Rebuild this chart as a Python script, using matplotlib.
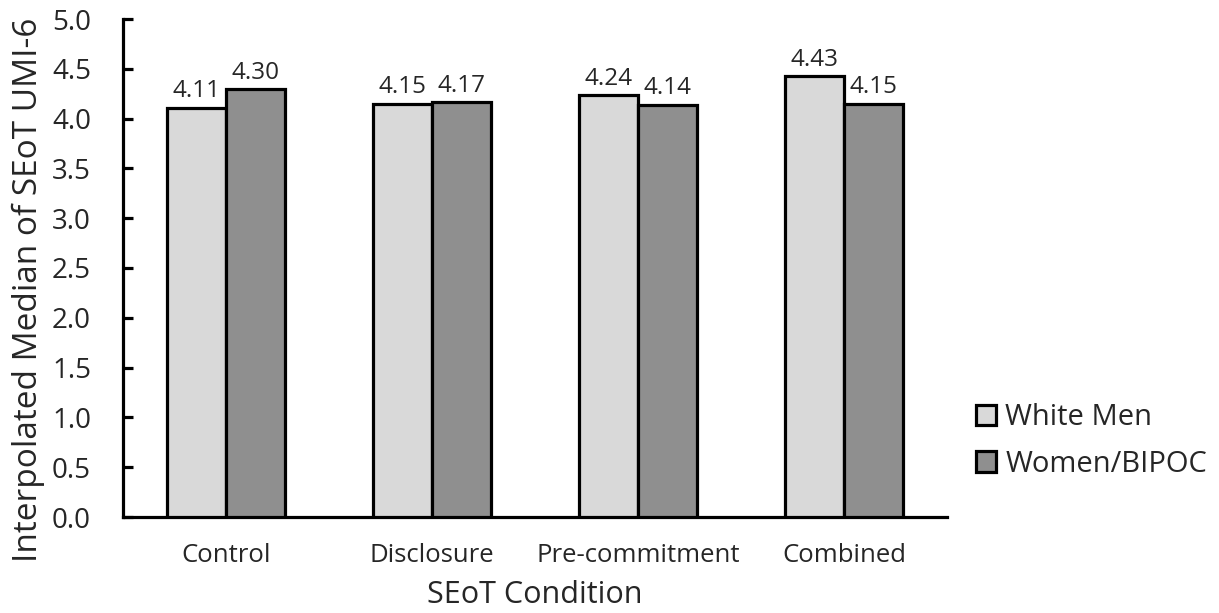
import matplotlib
matplotlib.use("Agg")
import matplotlib.pyplot as plt
import numpy as np
from matplotlib.patches import Patch

plt.rcParams['font.family'] = ['Open Sans', 'DejaVu Sans']

conditions = ["Control", "Disclosure", "Pre-commitment", "Combined"]
white_men = [4.11, 4.15, 4.24, 4.43]
women_bipoc = [4.30, 4.17, 4.14, 4.15]
series_names = ["White Men", "Women/BIPOC"]
y_ticks = [0.0, 0.5, 1.0, 1.5, 2.0, 2.5, 3.0, 3.5, 4.0, 4.5, 5.0]

DPI = 100
fig = plt.figure(figsize=(12.19, 6.13), dpi=DPI)
ax = fig.add_axes([123 / 1219, 1 - 517 / 613, (947 - 123) / 1219, (517 - 19) / 613])

x = np.arange(len(conditions))
w = 0.286
colors = ["#D9D9D9", "#8F8F8F"]
text_color = "#262626"

for i, (vals, col) in enumerate(zip([white_men, women_bipoc], colors)):
    offs = (i - 0.5) * w
    bars = ax.bar(x + offs, vals, width=w, color=col, edgecolor="black", linewidth=2.3, zorder=3)
    for b, v in zip(bars, vals):
        ax.annotate(f"{v:.2f}", (b.get_x() + b.get_width() / 2, v), xytext=(0, 3),
                    textcoords="offset points", ha="center", va="bottom",
                    fontsize=17.5, color=text_color)

ax.set_xlim(-0.5, len(conditions) - 0.5)
ax.set_ylim(0, 5.0)
ax.set_yticks(y_ticks)
ax.set_yticklabels([f"{t:.1f}" for t in y_ticks], fontsize=20, color=text_color)
ax.set_xticks(x)
ax.set_xticklabels(conditions, fontsize=18.5, color=text_color)

for s in ["top", "right"]:
    ax.spines[s].set_visible(False)
for s in ["left", "bottom"]:
    ax.spines[s].set_linewidth(2.3)
    ax.spines[s].set_color("black")

ax.tick_params(axis="y", direction="in", length=7, width=2.3, pad=23)
ax.tick_params(axis="x", length=0, pad=18.5)

ax.set_ylabel("Interpolated Median of SEoT UMI-6", fontsize=24, color=text_color)
ax.yaxis.set_label_coords((45 - 123) / 824, (517 - 290) / 498)
ax.set_xlabel("SEoT Condition", fontsize=22, color=text_color, labelpad=9)

handles = [Patch(facecolor=c, edgecolor="black", linewidth=2.3) for c in colors]
fig.legend(handles, series_names, loc="center left", bbox_to_anchor=(976 / 1219, 1 - 441 / 613),
           frameon=False, fontsize=21, handlelength=0.7, handleheight=0.7,
           handletextpad=0.3, labelspacing=0.6, borderpad=0, borderaxespad=0,
           labelcolor=text_color)

fig.savefig("out.png", dpi=DPI)
